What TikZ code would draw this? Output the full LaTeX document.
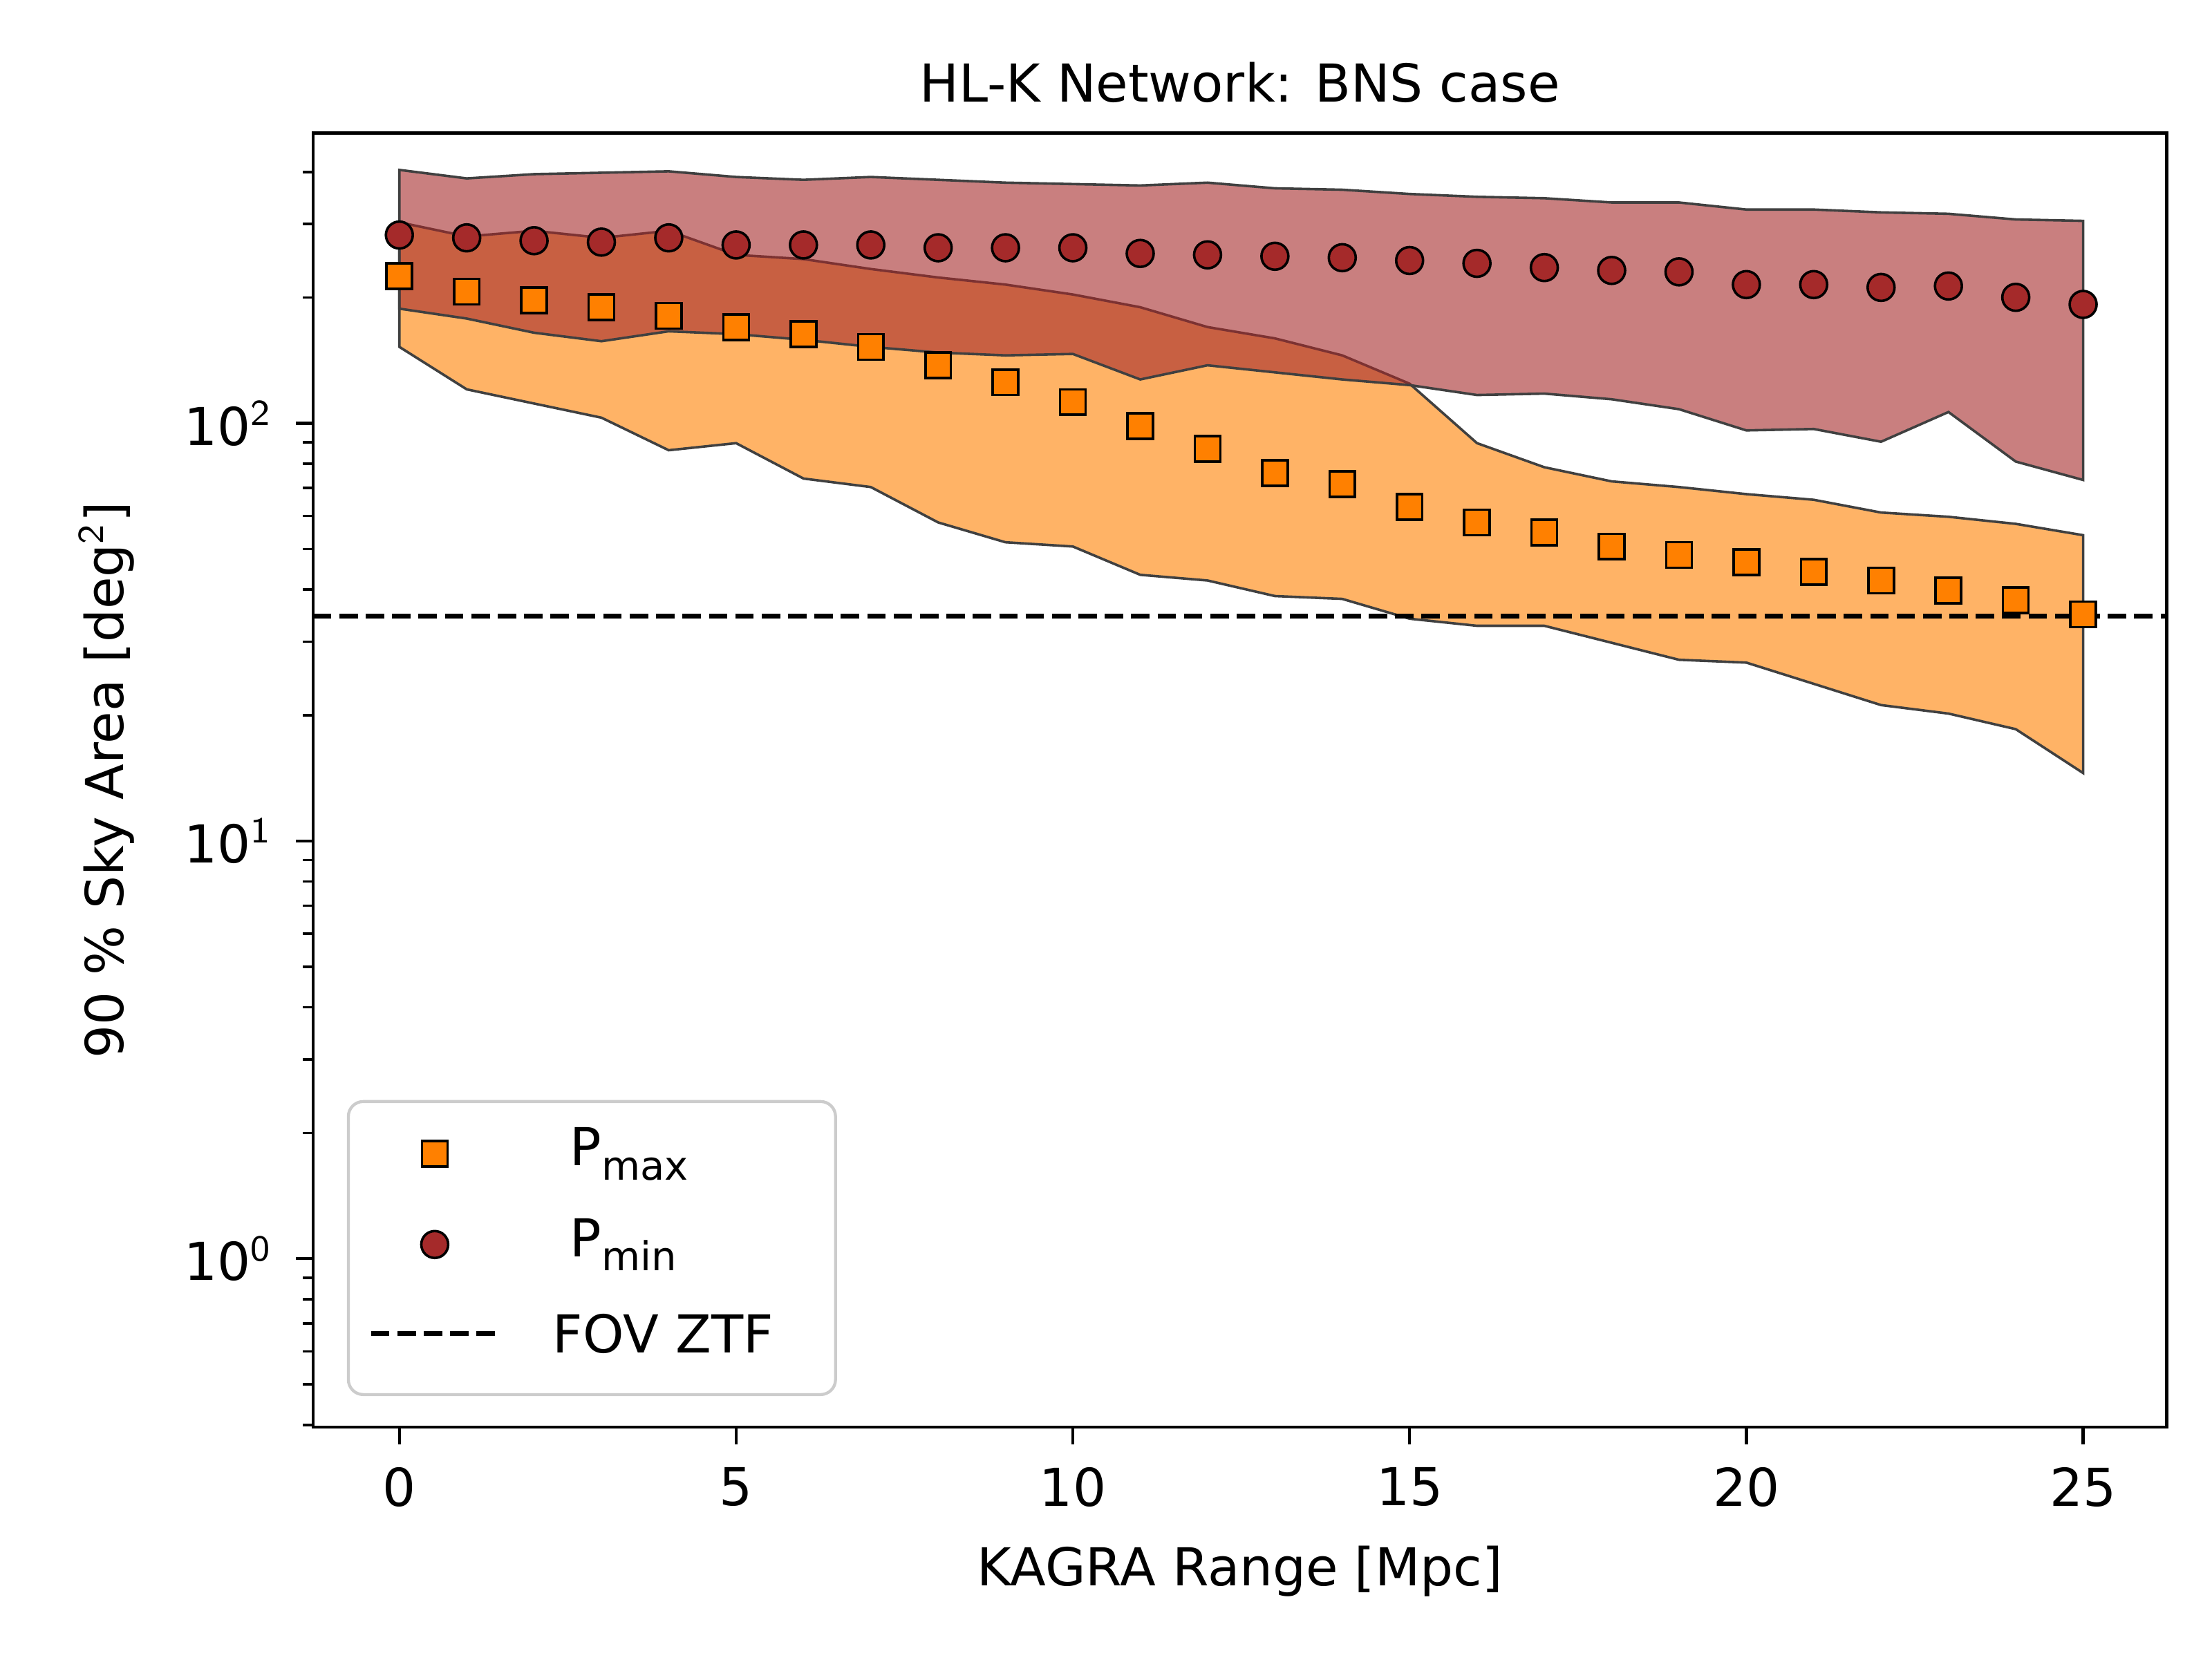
\documentclass[tikz,border=0pt]{standalone}
\usepackage{fontspec}
\setmainfont{DejaVu Sans}
\definecolor{brn}{RGB}{165,42,42}
\begin{document}
\begin{tikzpicture}[x=0.01cm,y=-0.01cm,font=\fontsize{10.5}{12}\selectfont,
 band/.style={draw=black!75,line width=0.5pt},
 sq/.style={draw=black,fill=orange,line width=0.5pt,minimum size=0.18cm,inner sep=0pt,rectangle},
 ci/.style={draw=black,fill=brn,line width=0.5pt,minimum size=0.19cm,inner sep=0pt,circle}]
\useasboundingbox (0,0) rectangle (1562,1172);
\def\xs{47.56}
% orange band
\fill[orange,opacity=0.6] (282,157)--(329.6,167)--(377.1,163)--(424.7,168)--(472.2,163)--(519.8,180)--(567.4,183)--(614.9,190)--(662.5,196)--(710,201)--(757.6,208)--(805.2,217)--(852.7,231)--(900.3,239)--(947.8,251)--(995.4,271)--(1043,313)--(1090.5,330)--(1138.1,340)--(1185.6,344)--(1233.2,349)--(1280.8,353)--(1328.3,362)--(1375.9,365)--(1423.4,370)--(1471,378)--(1471,546)--(1423.4,515)--(1375.9,504)--(1328.3,498)--(1280.8,483)--(1233.2,468)--(1185.6,466)--(1138.1,454)--(1090.5,442)--(1043,442)--(995.4,437)--(947.8,423)--(900.3,421)--(852.7,410)--(805.2,406)--(757.6,386)--(710,383)--(662.5,369)--(614.9,344)--(567.4,338)--(519.8,313)--(472.2,318)--(424.7,295)--(377.1,285)--(329.6,275)--(282,245)--cycle;
\draw[band] (282,157)--(329.6,167)--(377.1,163)--(424.7,168)--(472.2,163)--(519.8,180)--(567.4,183)--(614.9,190)--(662.5,196)--(710,201)--(757.6,208)--(805.2,217)--(852.7,231)--(900.3,239)--(947.8,251)--(995.4,271)--(1043,313)--(1090.5,330)--(1138.1,340)--(1185.6,344)--(1233.2,349)--(1280.8,353)--(1328.3,362)--(1375.9,365)--(1423.4,370)--(1471,378)--(1471,546)--(1423.4,515)--(1375.9,504)--(1328.3,498)--(1280.8,483)--(1233.2,468)--(1185.6,466)--(1138.1,454)--(1090.5,442)--(1043,442)--(995.4,437)--(947.8,423)--(900.3,421)--(852.7,410)--(805.2,406)--(757.6,386)--(710,383)--(662.5,369)--(614.9,344)--(567.4,338)--(519.8,313)--(472.2,318)--(424.7,295)--(377.1,285)--(329.6,275)--(282,245)--cycle;
% red band
\fill[brn,opacity=0.6] (282,120)--(329.6,126)--(377.1,123)--(424.7,122)--(472.2,121)--(519.8,125)--(567.4,127)--(614.9,125)--(662.5,127)--(710,129)--(757.6,130)--(805.2,131)--(852.7,129)--(900.3,133)--(947.8,134)--(995.4,137)--(1043,139)--(1090.5,140)--(1138.1,143)--(1185.6,143)--(1233.2,148)--(1280.8,148)--(1328.3,150)--(1375.9,151)--(1423.4,155)--(1471,156)--(1471,339)--(1423.4,326)--(1375.9,291)--(1328.3,312)--(1280.8,303)--(1233.2,304)--(1185.6,289)--(1138.1,282)--(1090.5,278)--(1043,279)--(995.4,272)--(947.8,268)--(900.3,263)--(852.7,258)--(805.2,268)--(757.6,250)--(710,251)--(662.5,249)--(614.9,245)--(567.4,240)--(519.8,236)--(472.2,234)--(424.7,241)--(377.1,235)--(329.6,225)--(282,218)--cycle;
\draw[band] (282,120)--(329.6,126)--(377.1,123)--(424.7,122)--(472.2,121)--(519.8,125)--(567.4,127)--(614.9,125)--(662.5,127)--(710,129)--(757.6,130)--(805.2,131)--(852.7,129)--(900.3,133)--(947.8,134)--(995.4,137)--(1043,139)--(1090.5,140)--(1138.1,143)--(1185.6,143)--(1233.2,148)--(1280.8,148)--(1328.3,150)--(1375.9,151)--(1423.4,155)--(1471,156)--(1471,339)--(1423.4,326)--(1375.9,291)--(1328.3,312)--(1280.8,303)--(1233.2,304)--(1185.6,289)--(1138.1,282)--(1090.5,278)--(1043,279)--(995.4,272)--(947.8,268)--(900.3,263)--(852.7,258)--(805.2,268)--(757.6,250)--(710,251)--(662.5,249)--(614.9,245)--(567.4,240)--(519.8,236)--(472.2,234)--(424.7,241)--(377.1,235)--(329.6,225)--(282,218)--cycle;
% FOV line
\coordinate (fa) at (221,435); \coordinate (fb) at (1530,435);
\draw[line width=1pt,dash pattern=on 3.7pt off 1.6pt] (fa)--(fb);
% markers
\foreach \v [count=\i from 0] in {195,206,212,217,223,231,236,245,258,270,284,301,317,334,342,358,369,376,386,392,397,404,410,417,424,434}
  \node[sq] (s\i) at (282+\i*\xs,\v) {};
\foreach \v [count=\i from 0] in {166,168,170,171,168,173,173,173,175,175,175,179,180,181,182,184,186,189,191,192,201,201,203,202,210,215}
  \node[ci] (c\i) at (282+\i*\xs,\v) {};
% axes
\draw[line width=0.6pt] (221,94) rectangle (1530,1008);
\foreach \t in {0,5,...,25}{
  \draw[line width=0.6pt] (282+\t*\xs,1008)--(282+\t*\xs,1020);
  \node[anchor=north] (xl\t) at (282+\t*\xs,1024) {\t};}
\foreach \e/\y in {0/889,1/594,2/299}{
  \draw[line width=0.6pt] (221,\y)--(209,\y);
  \node[anchor=east] (yl\e) at (205,\y) {10$^{\mathsf{\e}}$};}
\foreach \e in {-1,0,1,2}{
  \foreach \m in {2,...,9}{
    \pgfmathsetmacro{\yy}{889-295*(\e+log10(\m))}
    \pgfmathparse{(\yy>=94 && \yy<=1008)?1:0}
    \ifnum\pgfmathresult=1 \draw[line width=0.5pt] (221,\yy)--(214,\yy);\fi }}
\node (xlab) at (875.5,1110) {KAGRA Range [Mpc]};
\node[rotate=90] (ylab) at (75,551) {90 \% Sky Area [deg$^{\mathsf{2}}$]};
\node (title) at (875.5,58) {HL-K Network: BNS case};
% legend
\draw[draw=black!20,fill=white,fill opacity=0.8,rounded corners=3pt,line width=0.6pt] (246,778) rectangle (590,985);
\node[sq] (ls) at (307,815) {};
\node[anchor=west] (lt1) at (390,815) {P\raisebox{-0.5ex}{\fontsize{8}{9}\selectfont max}};
\node[ci] (lc) at (307,879) {};
\node[anchor=west] (lt2) at (390,879) {P\raisebox{-0.5ex}{\fontsize{8}{9}\selectfont min}};
\coordinate (la) at (262,942); \coordinate (lb) at (350,942);
\draw[line width=1pt,dash pattern=on 3.7pt off 1.6pt] (la)--(lb);
\node[anchor=west] (lt3) at (378,942) {FOV ZTF};
\end{tikzpicture}
\end{document}
